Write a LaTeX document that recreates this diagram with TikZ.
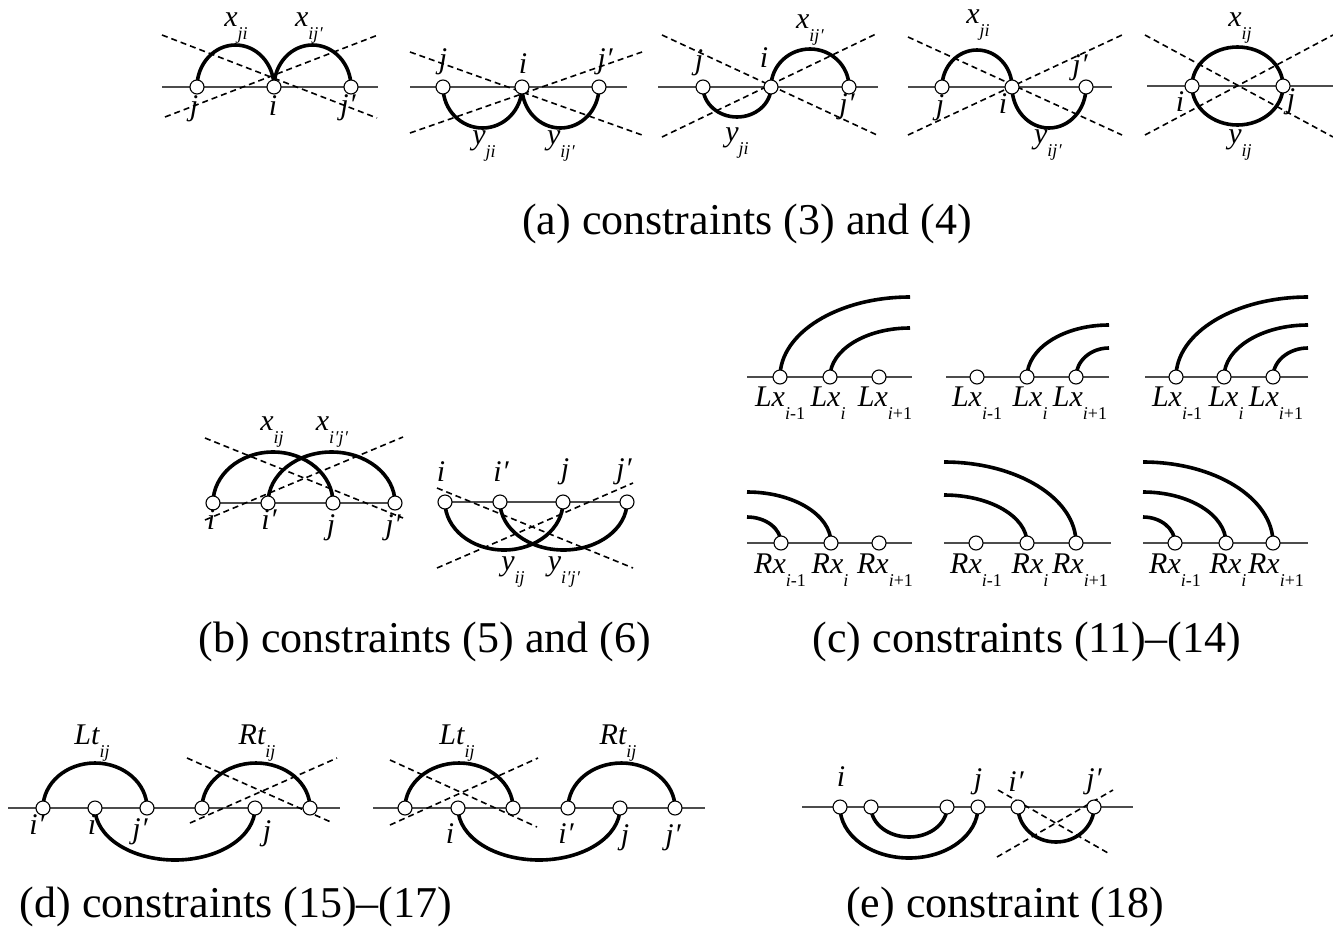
\documentclass[tikz,border=0pt]{standalone}
\usepackage{fontspec}
\setmainfont{Liberation Serif}
\usetikzlibrary{backgrounds}
\newcommand\sbs[1]{\raisebox{-0.42em}{\fontsize{18}{18}\selectfont #1}}
\newcommand\pr{\kern0.5pt′}
\tikzset{
 vtx/.style={circle,draw,fill=white,minimum size=14pt,inner sep=0pt,line width=1.1pt},
 baseln/.style={line width=1.8pt, black!70},
 arcl/.style={line width=3.6pt},
 dsh/.style={dash pattern=on 6pt off 4pt, line width=1.6pt},
 lab/.style={font=\fontsize{30}{30}\selectfont\itshape, inner sep=0pt},
 captxt/.style={font=\fontsize{44}{44}\selectfont, inner sep=0pt}
}
\begin{document}
\begin{tikzpicture}[x=1pt,y=-1pt]
\begin{scope}[on background layer]
\fill[white] (0,0) rectangle (1333,937);
\end{scope}
\useasboundingbox (0,0) rectangle (1333,937);
% ---------- nodes (a)
\node[vtx] (a1j) at (197,87) {}; \node[vtx] (a1i) at (274,87) {}; \node[vtx] (a1k) at (351,87) {};
\node[vtx] (a2j) at (443,87) {}; \node[vtx] (a2i) at (522,87) {}; \node[vtx] (a2k) at (599,87) {};
\node[vtx] (a3j) at (703,87) {}; \node[vtx] (a3i) at (771,87) {}; \node[vtx] (a3k) at (849,87) {};
\node[vtx] (a4j) at (942,87) {}; \node[vtx] (a4i) at (1012,87) {}; \node[vtx] (a4k) at (1086,87) {};
\node[vtx] (a5i) at (1192,86) {}; \node[vtx] (a5j) at (1283,86) {};
% ---------- nodes (b)
\node[vtx] (b1i) at (213,503) {}; \node[vtx] (b1ip) at (268,503) {}; \node[vtx] (b1j) at (333,503) {}; \node[vtx] (b1jp) at (395,503) {};
\node[vtx] (b2i) at (445,502) {}; \node[vtx] (b2ip) at (500,502) {}; \node[vtx] (b2j) at (563,502) {}; \node[vtx] (b2jp) at (627,502) {};
% ---------- nodes (c)
\foreach \n/\xa/\xb/\xc in {c1/780/830/879, c2/977/1027/1076, c3/1176/1224/1273}{
  \node[vtx] (\n a) at (\xa,377) {}; \node[vtx] (\n b) at (\xb,377) {}; \node[vtx] (\n c) at (\xc,377) {};
}
\foreach \n/\xa/\xb/\xc in {r1/781/831/879, r2/976/1027/1076, r3/1175/1226/1273}{
  \node[vtx] (\n a) at (\xa,543) {}; \node[vtx] (\n b) at (\xb,543) {}; \node[vtx] (\n c) at (\xc,543) {};
}
% ---------- nodes (d)
\node[vtx] (d1a) at (43,808) {}; \node[vtx] (d1b) at (95,808) {}; \node[vtx] (d1c) at (147,808) {};
\node[vtx] (d1d) at (202,808) {}; \node[vtx] (d1e) at (255,808) {}; \node[vtx] (d1f) at (310,808) {};
\node[vtx] (d2a) at (405,808) {}; \node[vtx] (d2b) at (458,808) {}; \node[vtx] (d2c) at (513,808) {};
\node[vtx] (d2d) at (568,808) {}; \node[vtx] (d2e) at (620,808) {}; \node[vtx] (d2f) at (675,808) {};
% ---------- nodes (e)
\node[vtx] (ea) at (840,807) {}; \node[vtx] (eb) at (871,807) {}; \node[vtx] (ec) at (947,807) {};
\node[vtx] (ed) at (978,807) {}; \node[vtx] (ee) at (1018,807) {}; \node[vtx] (ef) at (1094,807) {};

\begin{scope}[on background layer]
% baselines
\draw[baseln] (162,87) -- (378,87);
\draw[baseln] (410,87) -- (627,87);
\draw[baseln] (658,87) -- (878,87);
\draw[baseln] (908,87) -- (1112,87);
\draw[baseln] (1147,86) -- (1333,86);
\draw[baseln] (213,503) -- (395,503);
\draw[baseln] (445,502) -- (627,502);
\draw[baseln] (747,377) -- (912,377);
\draw[baseln] (946,377) -- (1109,377);
\draw[baseln] (1145,377) -- (1308,377);
\draw[baseln] (747,543) -- (912,543);
\draw[baseln] (944,543) -- (1111,543);
\draw[baseln] (1143,543) -- (1308,543);
\draw[baseln] (8,808) -- (340,808);
\draw[baseln] (373,808) -- (705,808);
\draw[baseln] (802,807) -- (1133,807);
% dashed
\draw[dsh] (162,35) -- (377,118); \draw[dsh] (165,117) -- (378,35);
\draw[dsh] (410,52) -- (642,135); \draw[dsh] (410,133) -- (642,52);
\draw[dsh] (662,35) -- (877,135); \draw[dsh] (662,137) -- (878,33);
\draw[dsh] (908,37) -- (1122,135); \draw[dsh] (908,135) -- (1122,35);
\draw[dsh] (1145,35) -- (1333,137); \draw[dsh] (1145,135) -- (1333,35);
\draw[dsh] (205,438) -- (403,518); \draw[dsh] (205,520) -- (403,437);
\draw[dsh] (437,488) -- (633,568); \draw[dsh] (437,568) -- (633,483);
\draw[dsh] (187,758) -- (333,823); \draw[dsh] (190,823) -- (337,758);
\draw[dsh] (390,760) -- (537,827); \draw[dsh] (390,825) -- (538,758);
\draw[dsh] (998,790) -- (1108,853); \draw[dsh] (997,857) -- (1113,790);
% arcs (a)
\draw[arcl] (a1j.center) arc[start angle=180,end angle=360,x radius=38.5,y radius=42];
\draw[arcl] (a1i.center) arc[start angle=180,end angle=360,x radius=38.5,y radius=42];
\draw[arcl] (a2j.center) arc[start angle=180,end angle=0,x radius=39.5,y radius=41];
\draw[arcl] (a2i.center) arc[start angle=180,end angle=0,x radius=38.5,y radius=41];
\draw[arcl] (a3j.center) arc[start angle=180,end angle=0,x radius=34,y radius=30];
\draw[arcl] (a3i.center) arc[start angle=180,end angle=360,x radius=39,y radius=38];
\draw[arcl] (a4j.center) arc[start angle=180,end angle=360,x radius=35,y radius=37];
\draw[arcl] (a4i.center) arc[start angle=180,end angle=0,x radius=37,y radius=41];
\draw[arcl] (a5i.center) arc[start angle=180,end angle=-180,x radius=45.5,y radius=39];
% arcs (b)
\draw[arcl] (b1i.center) arc[start angle=180,end angle=360,x radius=60,y radius=51];
\draw[arcl] (b1ip.center) arc[start angle=180,end angle=360,x radius=63.5,y radius=51];
\draw[arcl] (b2i.center) arc[start angle=180,end angle=0,x radius=59,y radius=48];
\draw[arcl] (b2ip.center) arc[start angle=180,end angle=0,x radius=63.5,y radius=48];
% arcs (c) top
\draw[arcl] (c1a.center) arc[start angle=180,end angle=270,x radius=130,y radius=80];
\draw[arcl] (c1b.center) arc[start angle=180,end angle=270,x radius=80,y radius=49];
\draw[arcl] (c2b.center) arc[start angle=180,end angle=270,x radius=82,y radius=52];
\draw[arcl] (c2c.center) arc[start angle=180,end angle=270,x radius=33,y radius=29];
\draw[arcl] (c3a.center) arc[start angle=180,end angle=270,x radius=132,y radius=80];
\draw[arcl] (c3b.center) arc[start angle=180,end angle=270,x radius=84,y radius=52];
\draw[arcl] (c3c.center) arc[start angle=180,end angle=270,x radius=35,y radius=29];
% arcs (c) bottom
\draw[arcl] (r1a.center) arc[start angle=0,end angle=-90,x radius=34,y radius=26];
\draw[arcl] (r1b.center) arc[start angle=0,end angle=-90,x radius=84,y radius=51];
\draw[arcl] (r2b.center) arc[start angle=0,end angle=-90,x radius=83,y radius=48];
\draw[arcl] (r2c.center) arc[start angle=0,end angle=-90,x radius=132,y radius=81];
\draw[arcl] (r3a.center) arc[start angle=0,end angle=-90,x radius=32,y radius=26];
\draw[arcl] (r3b.center) arc[start angle=0,end angle=-90,x radius=83,y radius=51];
\draw[arcl] (r3c.center) arc[start angle=0,end angle=-90,x radius=130,y radius=81];
% arcs (d)
\draw[arcl] (d1a.center) arc[start angle=180,end angle=360,x radius=52,y radius=45];
\draw[arcl] (d1d.center) arc[start angle=180,end angle=360,x radius=54,y radius=45];
\draw[arcl] (d1b.center) arc[start angle=180,end angle=0,x radius=80,y radius=52];
\draw[arcl] (d2a.center) arc[start angle=180,end angle=360,x radius=54,y radius=45];
\draw[arcl] (d2d.center) arc[start angle=180,end angle=360,x radius=53.5,y radius=45];
\draw[arcl] (d2b.center) arc[start angle=180,end angle=0,x radius=81,y radius=52];
% arcs (e)
\draw[arcl] (ea.center) arc[start angle=180,end angle=0,x radius=69,y radius=51];
\draw[arcl] (eb.center) arc[start angle=180,end angle=0,x radius=38,y radius=30];
\draw[arcl] (ee.center) arc[start angle=180,end angle=0,x radius=38,y radius=35];
\end{scope}

% ---------- labels (a)
\node[lab] (la1x) at (236,28) {x\sbs{ji}};
\node[lab] (la1y) at (309,28) {x\sbs{ij\pr}};
\node[lab] (la1j) at (194,109) {j};
\node[lab] (la1i) at (273,106) {i};
\node[lab] (la1k) at (348,108) {j\pr};
\node[lab] (la2j) at (443,62) {j};
\node[lab] (la2i) at (523,64) {i};
\node[lab] (la2k) at (605,62) {j\pr};
\node[lab] (la2x) at (484,146) {y\sbs{ji}};
\node[lab] (la2y) at (561,146) {y\sbs{ij\pr}};
\node[lab] (la3j) at (699,63) {j};
\node[lab] (la3i) at (764,58) {i};
\node[lab] (la3x) at (810,30) {x\sbs{ij\pr}};
\node[lab] (la3k) at (847,107) {j\pr};
\node[lab] (la3y) at (737,143) {y\sbs{ji}};
\node[lab] (la4x) at (978,25) {x\sbs{ji}};
\node[lab] (la4j) at (940,108) {j};
\node[lab] (la4i) at (1003,104) {i};
\node[lab] (la4k) at (1080,68) {j\pr};
\node[lab] (la4y) at (1048,145) {y\sbs{ij\pr}};
\node[lab] (la5x) at (1240,28) {x\sbs{ij}};
\node[lab] (la5i) at (1180,102) {i};
\node[lab] (la5j) at (1291,102) {j};
\node[lab] (la5y) at (1240,145) {y\sbs{ij}};
% ---------- labels (b)
\node[lab] (lb1x) at (272,432) {x\sbs{ij}};
\node[lab] (lb1y) at (332,432) {x\sbs{i\pr j\pr}};
\node[lab] (lb1i) at (211,520) {i};
\node[lab] (lb1ip) at (269,520) {i\pr};
\node[lab] (lb1j) at (331,528) {j};
\node[lab] (lb1jp) at (393,528) {j\pr};
\node[lab] (lb2i) at (441,472) {i};
\node[lab] (lb2ip) at (501,472) {i\pr};
\node[lab] (lb2j) at (565,472) {j};
\node[lab] (lb2jp) at (624,472) {j\pr};
\node[lab] (lb2x) at (513,572) {y\sbs{ij}};
\node[lab] (lb2y) at (564,572) {y\sbs{i\pr j\pr}};
% ---------- labels (c)
\foreach \n/\xa/\xb/\xc in {c1/780/828/885, c2/977/1030/1080, c3/1177/1226/1276}{
  \node[lab] (l\n a) at (\xa,403) {Lx\sbs{i\upshape -1}};
  \node[lab] (l\n b) at (\xb,403) {Lx\sbs{i}};
  \node[lab] (l\n c) at (\xc,403) {Lx\sbs{i\upshape +1}};
}
\foreach \n/\xa/\xb/\xc in {r1/780/830/885, r2/976/1030/1080, r3/1175/1228/1276}{
  \node[lab] (l\n a) at (\xa,570) {Rx\sbs{i\upshape -1}};
  \node[lab] (l\n b) at (\xb,570) {Rx\sbs{i}};
  \node[lab] (l\n c) at (\xc,570) {Rx\sbs{i\upshape +1}};
}
% ---------- labels (d)
\node[lab] (ld1l) at (92,743) {Lt\sbs{ij}};
\node[lab] (ld1r) at (257,743) {Rt\sbs{ij}};
\node[lab] (ld1a) at (37,825) {i\pr};
\node[lab] (ld1b) at (92,825) {i};
\node[lab] (ld1c) at (140,832) {j\pr};
\node[lab] (ld1e) at (267,834) {j};
\node[lab] (ld2l) at (457,743) {Lt\sbs{ij}};
\node[lab] (ld2r) at (618,743) {Rt\sbs{ij}};
\node[lab] (ld2b) at (450,834) {i};
\node[lab] (ld2d) at (566,834) {i\pr};
\node[lab] (ld2e) at (625,838) {j};
\node[lab] (ld2f) at (673,838) {j\pr};
% ---------- labels (e)
\node[lab] (lea) at (841,777) {i};
\node[lab] (led) at (978,782) {j};
\node[lab] (lee) at (1016,782) {i\pr};
\node[lab] (lef) at (1094,782) {j\pr};
% ---------- captions
\node[captxt] (capa) at (747,224) {(a) constraints (3) and (4)};
\node[captxt] (capb) at (425,642) {(b) constraints (5) and (6)};
\node[captxt] (capc) at (1027,642) {(c) constraints (11)--(14)};
\node[captxt] (capd) at (236,907) {(d) constraints (15)--(17)};
\node[captxt] (cape) at (1005,907) {(e) constraint (18)};
\end{tikzpicture}
\end{document}
